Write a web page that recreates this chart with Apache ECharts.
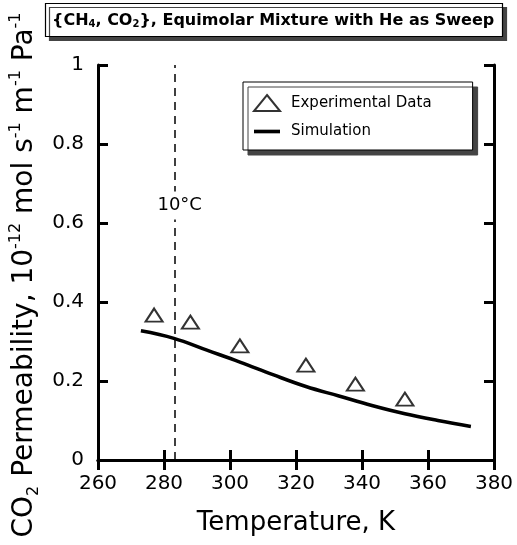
<!DOCTYPE html>
<html>
<head>
<meta charset="utf-8">
<script src="https://cdn.jsdelivr.net/npm/echarts@6/dist/echarts.min.js"></script>
<style>
  html, body { margin: 0; padding: 0; background: #fff; }
  #chart { width: 517px; height: 545px; }
</style>
</head>
<body>
<div id="chart"></div>
<script>
// Measured CO2 permeability (triangles)
const expTemperature = [277, 288, 303, 323, 338, 353];
const expPermeability = [0.367, 0.349, 0.289, 0.240, 0.192, 0.154];

// Model curve
const simTemperature = [273, 283, 293, 303, 313, 323, 333, 343, 353, 363, 373];
const simPermeability = [0.327, 0.308, 0.278, 0.248, 0.216, 0.186, 0.162, 0.138, 0.117, 0.100, 0.085];

// 10 °C reference line
const refTemperature = 283.15;
const refLabel = '10°C';
const refLabelY = 0.644;

const FONT = 'DejaVu Sans';
const chart = echarts.init(document.getElementById('chart'), null, { renderer: 'canvas' });

const axisLine = { show: true, lineStyle: { color: '#000', width: 3 } };
const axisTick = { show: true, inside: true, length: 10, lineStyle: { color: '#000', width: 3 } };

// Vertical axis title, drawn as rotated rich text so sub/superscripts sit correctly
const yTitle = '{a|CO}{sub|2}{a| Permeability, 10}{sup|-12}{a| mol s}{sup|-1}{a| m}{sup|-1}{a| Pa}{sup|-1}';

chart.setOption({
  animation: false,
  backgroundColor: '#fff',
  title: {
    text: '{CH{s|4}, CO{s|2}}, Equimolar Mixture with He as Sweep',
    left: 45,
    top: 4,
    padding: [8, 8, 8, 7],
    backgroundColor: '#fff',
    borderColor: '#000',
    borderWidth: 1.2,
    shadowColor: '#444',
    shadowBlur: 0,
    shadowOffsetX: 4,
    shadowOffsetY: 4,
    textStyle: {
      fontFamily: FONT, fontSize: 16, fontWeight: 'bold', color: '#000', lineHeight: 17,
      rich: { s: { fontFamily: FONT, fontSize: 10, fontWeight: 'bold', verticalAlign: 'bottom', lineHeight: 12, padding: [8, 0, 0, 0] } }
    }
  },
  graphic: [{
    type: 'text',
    x: 25,
    y: 275,
    rotation: Math.PI / 2,
    silent: true,
    style: {
      text: yTitle,
      align: 'center',
      verticalAlign: 'middle',
      fill: '#000',
      rich: {
        a: { fontFamily: FONT, fontSize: 28, fill: '#000', lineHeight: 34 },
        sup: { fontFamily: FONT, fontSize: 16, fill: '#000', lineHeight: 34, verticalAlign: 'top', padding: [0, 0, 14, 0] },
        sub: { fontFamily: FONT, fontSize: 16, fill: '#000', lineHeight: 34, verticalAlign: 'bottom', padding: [12, 0, 0, 0] }
      }
    }
  }],
  legend: {
    left: 243,
    top: 82,
    orient: 'vertical',
    data: [
      { name: 'Experimental Data', icon: 'triangle' },
      { name: 'Simulation', icon: 'path://M0,0h25v3.5h-25z' }
    ],
    symbolKeepAspect: true,
    itemWidth: 26,
    itemHeight: 16,
    itemGap: 12,
    padding: [12, 41, 11, 10],
    backgroundColor: '#fff',
    borderColor: '#000',
    borderWidth: 1,
    shadowColor: '#444',
    shadowBlur: 0,
    shadowOffsetX: 5,
    shadowOffsetY: 5,
    textStyle: { fontFamily: FONT, fontSize: 15, color: '#000', padding: [0, 0, 0, 6] }
  },
  grid: { left: 98, right: 23, top: 65, bottom: 85, containLabel: false, outerBoundsMode: 'none' },
  xAxis: [{
    type: 'value', min: 260, max: 380, interval: 20,
    axisLine, axisTick, splitLine: { show: false },
    axisLabel: { fontFamily: FONT, fontSize: 20, color: '#000', margin: 14 },
    name: 'Temperature, K', nameLocation: 'middle', nameGap: 50,
    nameTextStyle: { fontFamily: FONT, fontSize: 26, color: '#000' }
  }, {
    type: 'value', position: 'top', min: 260, max: 380, interval: 20,
    axisLine, axisTick, splitLine: { show: false }, axisLabel: { show: false }
  }],
  yAxis: [{
    type: 'value', min: 0, max: 1, interval: 0.2,
    axisLine, axisTick, splitLine: { show: false },
    axisLabel: { fontFamily: FONT, fontSize: 20, color: '#000', margin: 14 }
  }, {
    type: 'value', position: 'right', min: 0, max: 1, interval: 0.2,
    axisLine, axisTick, splitLine: { show: false }, axisLabel: { show: false }
  }],
  series: [{
    name: 'Simulation',
    type: 'line',
    data: simTemperature.map((t, i) => [t, simPermeability[i]]),
    smooth: 0.4,
    symbol: 'none',
    lineStyle: { color: '#000', width: 3.5 },
    itemStyle: { color: '#000' },
    z: 3,
    markLine: {
      silent: true,
      symbol: 'none',
      label: { show: false },
      lineStyle: { color: '#000', width: 1.5, type: [8, 6] },
      data: [{ xAxis: refTemperature }]
    },
    markPoint: {
      silent: true,
      symbol: 'rect',
      symbolSize: 0,
      label: {
        show: true, formatter: refLabel, fontFamily: FONT, fontSize: 18, color: '#000',
        backgroundColor: '#fff', padding: [5, 1, 5, 1], position: 'inside'
      },
      data: [{ coord: [refTemperature + 1.6, refLabelY] }]
    }
  }, {
    name: 'Experimental Data',
    type: 'scatter',
    data: expTemperature.map((t, i) => [t, expPermeability[i]]),
    symbol: 'triangle',
    symbolSize: [17, 13],
    itemStyle: { color: '#fff', borderColor: '#000', borderWidth: 2 },
    z: 4
  }]
});
</script>
</body>
</html>
